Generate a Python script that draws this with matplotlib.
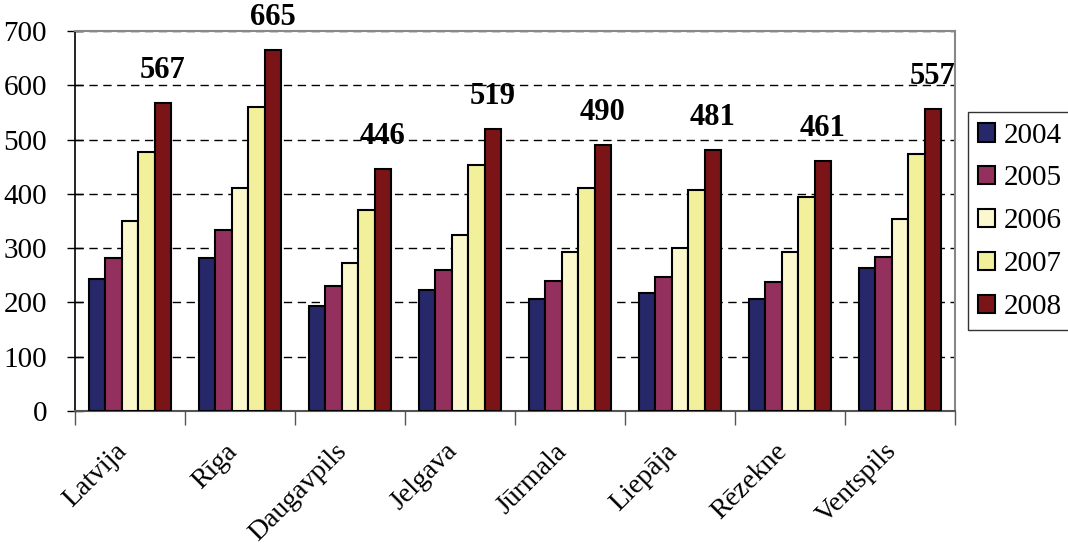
import numpy as np
import matplotlib.pyplot as plt
from matplotlib import font_manager

# Values
cities = ['Latvija', 'Rīga', 'Daugavpils', 'Jelgava', 'Jūrmala', 'Liepāja', 'Rēzekne', 'Ventspils']
years = ['2004', '2005', '2006', '2007', '2008']
v2004 = [243, 282, 193, 223, 206, 217, 206, 263]
v2005 = [282, 333, 230, 260, 240, 247, 238, 284]
v2006 = [350, 411, 273, 324, 293, 300, 293, 354]
v2007 = [477, 560, 370, 453, 411, 407, 394, 473]
v2008 = [567, 665, 446, 519, 490, 481, 461, 557]
colors = ['#262869', '#94305e', '#fbf8cd', '#f3f09c', '#7b1416']

# register any Liberation Serif files so the serif look of the original is kept
for f in font_manager.findSystemFonts():
    if 'LiberationSerif' in f.replace(' ', '') or 'DejaVuSerif' in f.replace(' ', ''):
        try:
            font_manager.fontManager.addfont(f)
        except Exception:
            pass
plt.rcParams['font.family'] = 'serif'
plt.rcParams['font.serif'] = ['Liberation Serif', 'Times New Roman', 'DejaVu Serif']

fig = plt.figure(figsize=(10.68, 5.48), dpi=100)
ax = fig.add_axes([0.070, 0.25, 0.824, 0.693])

series = [v2004, v2005, v2006, v2007, v2008]
x = np.arange(len(cities))
w = 0.15
for i, (vals, yr) in enumerate(zip(series, years)):
    ax.bar(x + (i - 2) * w, vals, w, color=colors[i], edgecolor='black',
           linewidth=1.5, label=yr, zorder=3)

# bold labels over the 2008 bars
for xi, v in zip(x, v2008):
    ax.annotate(str(v), (xi + 2 * w, v), xytext=(0, 13), textcoords='offset points',
                ha='center', va='bottom', fontsize=22, fontweight='bold',
                annotation_clip=False)

ax.set_xlim(-0.5, len(cities) - 0.5)
ax.set_ylim(0, 700)
ax.set_yticks(range(0, 701, 100))
ax.tick_params(axis='y', labelsize=21, direction='inout', length=12, width=1, pad=14)
ax.yaxis.grid(True, linestyle=(0, (6, 4)), color='black', linewidth=1, zorder=0)

# x ticks at category boundaries, labels centered on groups
ax.set_xticks(np.arange(-0.5, len(cities), 1.0))
ax.set_xticklabels([])
ax.tick_params(axis='x', direction='out', length=10, width=1, color='#555555')
ax.set_xticks(x - 0.14, minor=True)
ax.set_xticklabels(cities, minor=True, rotation=45, ha='right', rotation_mode='anchor',
                   fontsize=20)
ax.tick_params(axis='x', which='minor', length=0, pad=20)

for s in ['top', 'right']:
    ax.spines[s].set_color('#888888')
    ax.spines[s].set_linewidth(1.5)
ax.spines['left'].set_linewidth(1.2)
ax.spines['bottom'].set_color('#555555')
ax.spines['bottom'].set_linewidth(1.5)

leg = fig.legend(loc='upper left', bbox_to_anchor=(0.906, 0.795), fontsize=21,
                 frameon=True, fancybox=False, edgecolor='black', handlelength=0.6,
                 handleheight=0.6, handletextpad=0.3, labelspacing=0.58,
                 borderpad=0.35, borderaxespad=0)
leg.get_frame().set_linewidth(1)

fig.savefig('out.png', dpi=100)
